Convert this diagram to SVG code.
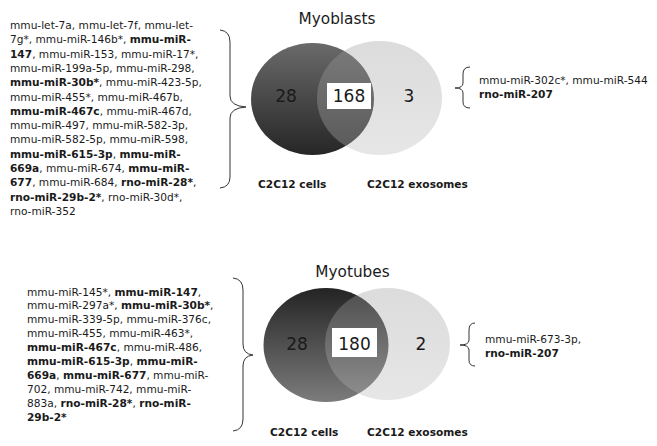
<svg xmlns="http://www.w3.org/2000/svg" width="657" height="446" viewBox="0 0 657 446">
<defs>
<linearGradient id="darkTop" x1="0" y1="0" x2="0" y2="1"><stop offset="0" stop-color="#6a6a6a"/><stop offset="1" stop-color="#262626"/></linearGradient>
<linearGradient id="darkBot" x1="0" y1="0" x2="0" y2="1"><stop offset="0" stop-color="#242424"/><stop offset="1" stop-color="#7c7c7c"/></linearGradient>
<linearGradient id="light" x1="0" y1="0" x2="0" y2="1"><stop offset="0" stop-color="#9a9a9a"/><stop offset="1" stop-color="#b8b8b8"/></linearGradient>
<style>
text{font-family:"DejaVu Sans","Liberation Sans",sans-serif;fill:#1a1a1a}
.l{font-size:10.6px}
.b{font-weight:bold}
.t{font-size:15.3px;text-anchor:middle}
.n{font-size:17px;text-anchor:middle}
.lab{font-size:10.6px;font-weight:bold}
.lt{fill:url(#light);fill-opacity:0.35}
.box{fill:#fff}
.br{fill:none;stroke:#333;stroke-width:1}
</style>
</defs>
<rect width="657" height="446" fill="#fff"/>

<g id="myoblasts">
<text class="t" x="337" y="24">Myoblasts</text>
<ellipse cx="312.5" cy="99" rx="61.5" ry="56" fill="url(#darkTop)"/>
<ellipse class="lt" cx="379.5" cy="98" rx="62.5" ry="57"/>
<rect class="box" x="327" y="83" width="44" height="26"/>
<text class="n" x="286" y="102">28</text>
<text class="n" x="349" y="102">168</text>
<text class="n" x="409" y="102">3</text>
<text class="lab" x="258" y="188">C2C12 cells</text>
<text class="lab" x="367" y="188">C2C12 exosomes</text>
</g>

<g id="myoblasts-cells-list">
<text class="l" x="10" y="29">mmu-let-7a, mmu-let-7f, mmu-let-</text>
<text class="l" x="10" y="43.3">7g*, mmu-miR-146b*, <tspan class="b">mmu-miR-</tspan></text>
<text class="l" x="10" y="57.6"><tspan class="b">147</tspan>, mmu-miR-153, mmu-miR-17*,</text>
<text class="l" x="10" y="71.9">mmu-miR-199a-5p, mmu-miR-298,</text>
<text class="l" x="10" y="86.2"><tspan class="b">mmu-miR-30b*</tspan>, mmu-miR-423-5p,</text>
<text class="l" x="10" y="100.5">mmu-miR-455*, mmu-miR-467b,</text>
<text class="l" x="10" y="114.8"><tspan class="b">mmu-miR-467c</tspan>, mmu-miR-467d,</text>
<text class="l" x="10" y="129.1">mmu-miR-497, mmu-miR-582-3p,</text>
<text class="l" x="10" y="143.4">mmu-miR-582-5p, mmu-miR-598,</text>
<text class="l" x="10" y="157.7"><tspan class="b">mmu-miR-615-3p</tspan>, <tspan class="b">mmu-miR-</tspan></text>
<text class="l" x="10" y="172"><tspan class="b">669a</tspan>, mmu-miR-674, <tspan class="b">mmu-miR-</tspan></text>
<text class="l" x="10" y="186.3"><tspan class="b">677</tspan>, mmu-miR-684, <tspan class="b">rno-miR-28*</tspan>,</text>
<text class="l" x="10" y="200.6"><tspan class="b">rno-miR-29b-2*</tspan>, rno-miR-30d*,</text>
<text class="l" x="10" y="214.9">rno-miR-352</text>
</g>

<g id="myoblasts-exo-list">
<text class="l" x="479" y="84">mmu-miR-302c*, mmu-miR-544</text>
<text class="l b" x="479" y="98">rno-miR-207</text>
</g>

<g id="myotubes">
<text class="t" x="352.5" y="277">Myotubes</text>
<ellipse cx="326" cy="345" rx="62.5" ry="57" fill="url(#darkBot)"/>
<ellipse class="lt" cx="387.5" cy="344" rx="62.5" ry="56"/>
<rect class="box" x="332" y="328" width="45" height="29"/>
<text class="n" x="297" y="350">28</text>
<text class="n" x="354.5" y="350">180</text>
<text class="n" x="421" y="350">2</text>
<text class="lab" x="270" y="436">C2C12 cells</text>
<text class="lab" x="367" y="436">C2C12 exosomes</text>
</g>

<g id="myotubes-cells-list">
<text class="l" x="27" y="295.5">mmu-miR-145*, <tspan class="b">mmu-miR-147</tspan>,</text>
<text class="l" x="27" y="309.4">mmu-miR-297a*, <tspan class="b">mmu-miR-30b*</tspan>,</text>
<text class="l" x="27" y="323.3">mmu-miR-339-5p, mmu-miR-376c,</text>
<text class="l" x="27" y="337.2">mmu-miR-455, mmu-miR-463*,</text>
<text class="l" x="27" y="351.1"><tspan class="b">mmu-miR-467c</tspan>, mmu-miR-486,</text>
<text class="l" x="27" y="365"><tspan class="b">mmu-miR-615-3p</tspan>, <tspan class="b">mmu-miR-</tspan></text>
<text class="l" x="27" y="378.9"><tspan class="b">669a</tspan>, <tspan class="b">mmu-miR-677</tspan>, mmu-miR-</text>
<text class="l" x="27" y="392.8">702, mmu-miR-742, mmu-miR-</text>
<text class="l" x="27" y="406.7">883a, <tspan class="b">rno-miR-28*</tspan>, <tspan class="b">rno-miR-</tspan></text>
<text class="l b" x="27" y="420.6">29b-2*</text>
</g>

<g id="myotubes-exo-list">
<text class="l" x="485" y="343">mmu-miR-673-3p,</text>
<text class="l b" x="485" y="357">rno-miR-207</text>
</g>

<g id="connectors">
<path class="br" d="M220,30 Q230,31 230,42 L230,96 Q230,106 246,107 Q230,108 230,118 L230,177 Q230,187 220,188"/>
<path class="br" d="M470,67 Q463,67 463,74 L463,83 Q463,88 455,88 Q463,88 463,93 L463,102 Q463,108 470,108"/>
<path class="br" d="M233,278 Q243,279 243,290 L243,344 Q243,354 253,355 Q243,356 243,366 L243,419 Q243,430 233,431"/>
<path class="br" d="M475,323 Q469,323 469,330 L469,340 Q469,345 460,345 Q469,345 469,350 L469,360 Q469,366 475,366"/>
</g>
</svg>
